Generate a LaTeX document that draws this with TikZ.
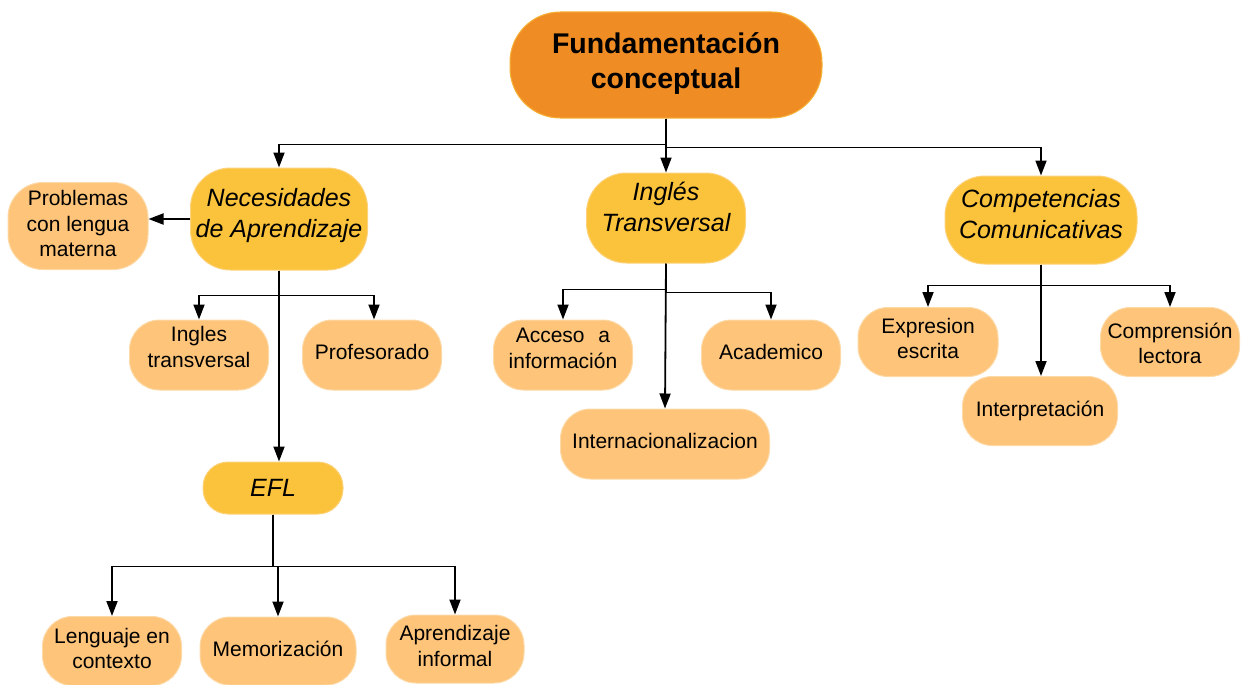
\documentclass[tikz,border=0pt]{standalone}
\usepackage{fontspec}
\setmainfont{Liberation Sans}
\usetikzlibrary{arrows.meta}
\definecolor{rootfill}{HTML}{EF8C23}
\definecolor{rootline}{HTML}{F6B33A}
\definecolor{lonefill}{HTML}{FBC33B}
\definecolor{loneline}{HTML}{FDD27A}
\definecolor{kidfill}{HTML}{FEC479}
\definecolor{kidline}{HTML}{FDD9A6}
% lift the ink of a (multi-line) text without changing its box
\newcommand{\liftext}[2]{\raisebox{#1}[\height][\depth]{\begin{tabular}{@{}c@{}}#2\end{tabular}}}
\tikzset{
  box/.style={align=center, inner sep=0pt, line width=1pt},
  rootbox/.style={box, fill=rootfill, draw=rootline, rounded corners=50pt,
    minimum width=312pt, minimum height=106pt,
    font=\fontsize{28.5}{35}\selectfont\bfseries},
  lonebox/.style={box, fill=lonefill, draw=loneline, rounded corners=40pt,
    font=\fontsize{25}{31}\selectfont\itshape},
  kidbox/.style={box, fill=kidfill, draw=kidline, rounded corners=30pt,
    minimum width=139pt, minimum height=70pt,
    font=\fontsize{21}{25.5}\selectfont},
  arr/.style={line width=1.8pt, -{Triangle[width=11pt,length=15pt]}}
}
\begin{document}
\begin{tikzpicture}[x=1pt,y=-1pt]
\useasboundingbox (0,0) rectangle (1242,685);
% root
\node[rootbox] (root) at (666,65) {\liftext{1pt}{Fundamentación\\conceptual}};
% level one
\node[lonebox, minimum width=177pt, minimum height=102pt] (nec) at (279,219) {\liftext{3.5pt}{Necesidades\\de Aprendizaje}};
\node[lonebox, minimum width=159pt, minimum height=90pt] (ing) at (666,218) {\liftext{8.5pt}{Inglés\\Transversal}};
\node[lonebox, minimum width=192pt, minimum height=88pt] (com) at (1041,220) {\liftext{3pt}{Competencias\\Comunicativas}};
\node[lonebox, minimum width=140pt, minimum height=52pt, rounded corners=25pt] (efl) at (273,488) {EFL};
% children
\node[kidbox, minimum width=140pt, minimum height=87pt, rounded corners=35pt] (prob) at (78,226) {\liftext{0pt}{Problemas\\con lengua\\materna}};
\node[kidbox] (ingt) at (199,355) {\liftext{5.5pt}{Ingles\\transversal}};
\node[kidbox] (prof) at (372,355) {\liftext{1pt}{Profesorado}};
\node[kidbox, minimum height=69pt] (len) at (112,651) {\liftext{0pt}{Lenguaje en\\contexto}};
\node[kidbox, minimum width=156pt, minimum height=68pt] (mem) at (278,651) {\liftext{0pt}{Memorización}};
\node[kidbox, minimum width=138pt, minimum height=68pt] (apr) at (455,649) {\liftext{0.5pt}{Aprendizaje\\informal}};
\node[kidbox] (acc) at (563,355) {\liftext{4.5pt}{Acceso\hspace{8pt} a\\información}};
\node[kidbox] (aca) at (771,355) {\liftext{1pt}{Academico}};
\node[kidbox, minimum width=209pt] (int) at (665,444) {\liftext{1pt}{Internacionalizacion}};
\node[kidbox, minimum width=140pt, minimum height=69pt] (exp) at (928,342) {\liftext{1pt}{Expresion\\escrita}};
\node[kidbox, minimum height=69pt] (comp) at (1170,342) {\liftext{-4pt}{Comprensión\\lectora}};
\node[kidbox, minimum width=155pt, minimum height=69pt] (inter) at (1040,411) {\liftext{0pt}{Interpretación}};
% connectors from root
\draw[arr] (root.south) -- ++(0,26) -| (nec.north);
\draw[arr] (root.south) -- ++(0,29) -| (com.north);
\draw[arr] (root.south) -- (ing.north);
% Necesidades
\draw[arr] (nec.west) -- (nec.west -| prob.east);
\draw[arr] (nec.south) -- ++(0,25) -| (ingt.north);
\draw[arr] (nec.south) -- ++(0,25) -| ([xshift=2pt]prof.north);
\draw[arr] (nec.south) -- (nec.south |- efl.north);
% EFL
\draw[arr] (efl.south) -- ++(0,52) -| (len.north);
\draw[arr] (efl.south) -- ++(0,52) -| (apr.north);
\draw[arr] (efl.south) -- ++(0,52) -| (mem.north);
% Ingles Transversal
\draw[arr] (ing.south) -- ++(0,26) -| (acc.north);
\draw[arr] (ing.south) -- ++(0,29) -| (aca.north);
\draw[arr] (ing.south) -- (int.north);
% Competencias
\draw[arr] (com.south) -- ++(0,21) -| (exp.north);
\draw[arr] (com.south) -- ++(0,21) -| (comp.north);
\draw[arr] (com.south) -- (com.south |- inter.north);
\end{tikzpicture}
\end{document}
